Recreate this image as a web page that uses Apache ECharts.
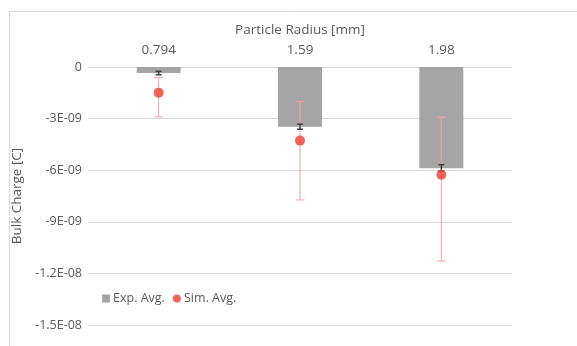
<!DOCTYPE html>
<html><head><meta charset="utf-8">
<script src="https://cdn.jsdelivr.net/npm/echarts@6/dist/echarts.min.js"></script>
<style>html,body{margin:0;padding:0;background:#fff}#c{width:577px;height:346px}</style>
</head><body><div id="c"></div>
<script>
const categories = ['0.794', '1.59', '1.98'];
const expAvg = [-0.35e-9, -3.47e-9, -5.89e-9];
const expErrLow = [-0.45e-9, -3.62e-9, -6.05e-9];
const expErrHigh = [-0.25e-9, -3.32e-9, -5.68e-9];
const simAvg = [-1.49e-9, -4.28e-9, -6.26e-9];
const simErrLow = [-2.9e-9, -7.73e-9, -11.28e-9];
const simErrHigh = [-0.62e-9, -2.02e-9, -2.92e-9];
const yTickValues = [0, -3e-9, -6e-9, -9e-9, -1.2e-8, -1.5e-8];
const yTickLabels = ['0', '-3E-09', '-6E-09', '-9E-09', '-1.2E-08', '-1.5E-08'];

const FONT = '"Open Sans", "Noto Sans", sans-serif';
const TXT = '#595959';

function errRender(low, high, color, capW, lw) {
  return function (params, api) {
    const i = params.dataIndex;
    const p1 = api.coord([i, high[i]]);
    const p2 = api.coord([i, low[i]]);
    const x = p1[0];
    const st = { stroke: color, lineWidth: lw };
    return { type: 'group', children: [
      { type: 'line', shape: { x1: x, y1: p1[1], x2: x, y2: p2[1] }, style: st },
      { type: 'line', shape: { x1: x - capW / 2, y1: p1[1], x2: x + capW / 2, y2: p1[1] }, style: st },
      { type: 'line', shape: { x1: x - capW / 2, y1: p2[1], x2: x + capW / 2, y2: p2[1] }, style: st }
    ]};
  };
}

const chart = echarts.init(document.getElementById('c'), null, { renderer: 'canvas' });
chart.setOption({
  animation: false,
  backgroundColor: '#fff',
  textStyle: { fontFamily: FONT },
  graphic: [{ type: 'rect', left: 7, top: 9, shape: { width: 640, height: 400 }, style: { fill: 'none', stroke: '#d9d9d9', lineWidth: 1 }, silent: true }],
  grid: { left: 88, right: 65, top: 67, bottom: 21 },
  legend: {
    left: 97, top: 287, itemWidth: 8, itemHeight: 8, itemGap: 8,
    textStyle: { color: TXT, fontSize: 12.5, fontFamily: FONT, padding: [0, 0, 0, -2] },
    data: [{ name: 'Exp. Avg.', icon: 'rect' }, { name: 'Sim. Avg.', icon: 'circle' }]
  },
  xAxis: {
    type: 'category', data: categories, position: 'top',
    name: 'Particle Radius [mm]', nameLocation: 'middle', nameGap: 30,
    nameTextStyle: { color: TXT, fontSize: 13.5, fontFamily: FONT },
    axisLine: { show: true, lineStyle: { color: '#d9d9d9' } },
    axisTick: { show: false },
    axisLabel: { color: TXT, fontSize: 13.5, margin: 10, fontFamily: FONT }
  },
  yAxis: {
    type: 'value', min: -1.5e-8, max: 0, interval: 3e-9,
    name: 'Bulk Charge [C]', nameLocation: 'middle', nameGap: 63,
    nameTextStyle: { color: TXT, fontSize: 13.5, fontFamily: FONT },
    axisLine: { show: false }, axisTick: { show: false },
    splitLine: { lineStyle: { color: '#d9d9d9' } },
    axisLabel: {
      color: TXT, fontSize: 12.5, margin: 6, fontFamily: FONT,
      formatter: function (v) {
        for (let k = 0; k < yTickValues.length; k++) if (Math.abs(v - yTickValues[k]) < 1e-12) return yTickLabels[k];
        return '';
      }
    }
  },
  series: [
    { name: 'Exp. Avg.', type: 'bar', data: expAvg, barWidth: 44, itemStyle: { color: '#a5a5a5' }, z: 2 },
    { name: 'simErr', type: 'custom', data: simAvg, renderItem: errRender(simErrLow, simErrHigh, '#f7a1a1', 9, 1), z: 3, silent: true },
    { name: 'expErr', type: 'custom', data: expAvg, renderItem: errRender(expErrLow, expErrHigh, '#404040', 6, 1.5), z: 4, silent: true },
    { name: 'Sim. Avg.', type: 'scatter', data: simAvg, symbol: 'circle', symbolSize: 10, itemStyle: { color: '#f03c34' }, z: 5 }
  ]
});
</script></body></html>
